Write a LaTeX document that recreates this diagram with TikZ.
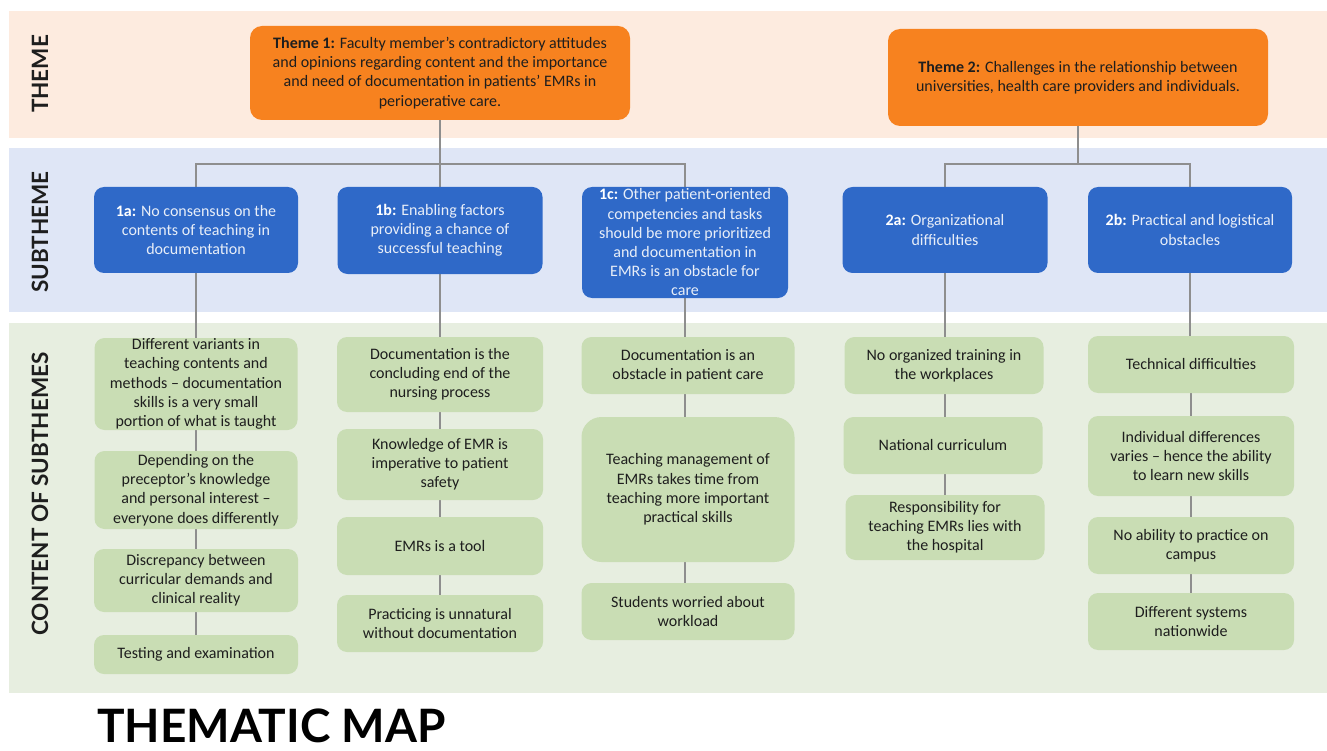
\documentclass[tikz,border=0pt]{standalone}
\usepackage{fontspec}
\setmainfont{Carlito}
\newfontfamily\labelfont{Lato}
\usetikzlibrary{backgrounds}
\definecolor{peach}{HTML}{FDEBDF}
\definecolor{bandblue}{HTML}{DFE6F6}
\definecolor{bandgreen}{HTML}{E7EEE0}
\definecolor{orangebox}{HTML}{F7821F}
\definecolor{bluebox}{HTML}{2F69C8}
\definecolor{greenbox}{HTML}{C9DDB4}
\definecolor{linegray}{HTML}{8E8E8E}
\definecolor{subtext}{HTML}{E8EEF8}
\definecolor{darktext}{HTML}{1E1E1E}
\pgfdeclarelayer{bands}
\pgfsetlayers{bands,background,main}
\begin{document}
\begin{tikzpicture}[x=1pt,y=-1pt,
  themebox/.style={fill=orangebox, rounded corners=12pt, align=center, inner sep=0pt,
    text=darktext, font=\fontsize{16}{19.2}\selectfont},
  subbox/.style={fill=bluebox, rounded corners=10pt, align=center, inner sep=0pt,
    text=subtext, font=\fontsize{16}{19.2}\selectfont},
  contbox/.style={fill=greenbox, rounded corners=10pt, align=center, inner sep=0pt,
    text=darktext, font=\fontsize{16}{19.2}\selectfont},
  sidelabel/.style={rotate=90, text=darktext, font=\labelfont\bfseries\fontsize{22.5}{26}\selectfont},
  conn/.style={draw=linegray, line width=1.4pt}
]
\useasboundingbox (0,0) rectangle (1327,751);
\begin{pgfonlayer}{bands}
  \fill[peach] (9,11) rectangle (1327,138);
  \fill[bandblue] (9,148) rectangle (1327,312);
  \fill[bandgreen] (9,323) rectangle (1327,693);
\end{pgfonlayer}

% side labels
\node[sidelabel] (lt) at (40,74) {THEME};
\node[sidelabel] (ls) at (40,232) {SUBTHEME};
\node[sidelabel] (lc) at (40,494) {CONTENT OF SUBTHEMES};

% title
\node[anchor=base west, inner sep=0pt, text=black, font=\labelfont\bfseries\fontsize{46}{50}\selectfont] (title) at (97,742) {THEMATIC MAP};

% themes
\node[themebox, minimum width=380, minimum height=94] (T1) at (440,73)
  {\textbf{Theme 1:} Faculty member’s contradictory attitudes\\and opinions regarding content and the importance\\and need of documentation in patients’ EMRs in\\perioperative care.};
\node[themebox, minimum width=380, minimum height=97] (T2) at (1078,77.5)
  {\textbf{Theme 2:} Challenges in the relationship between\\universities, health care providers and individuals.};

% subthemes
\node[subbox, minimum width=204, minimum height=86] (S1a) at (196,230)
  {\textbf{\color{white}1a:} No consensus on the\\contents of teaching in\\documentation};
\node[subbox, minimum width=205, minimum height=87] (S1b) at (440,230.5)
  {\textbf{\color{white}1b:} Enabling factors\\providing a chance of\\successful teaching};
\node[subbox, minimum width=206, minimum height=111] (S1c) at (685,242.5)
  {\textbf{\color{white}1c:} Other patient-oriented\\competencies and tasks\\should be more prioritized\\and documentation in\\EMRs is an obstacle for\\care};
\node[subbox, minimum width=205, minimum height=86] (S2a) at (945,230)
  {\textbf{\color{white}2a:} Organizational\\difficulties};
\node[subbox, minimum width=204, minimum height=86] (S2b) at (1190,230)
  {\textbf{\color{white}2b:} Practical and logistical\\obstacles};

% content column 1a
\node[contbox, minimum width=203, minimum height=92] (A1) at (196,384)
  {Different variants in\\teaching contents and\\methods – documentation\\skills is a very small\\portion of what is taught};
\node[contbox, minimum width=203, minimum height=78] (A2) at (196,490)
  {Depending on the\\preceptor’s knowledge\\and personal interest –\\everyone does differently};
\node[contbox, minimum width=204, minimum height=63] (A3) at (196,580.5)
  {Discrepancy between\\curricular demands and\\clinical reality};
\node[contbox, minimum width=204, minimum height=39] (A4) at (196,654.5)
  {Testing and examination};

% content column 1b
\node[contbox, minimum width=206, minimum height=75] (B1) at (440,374.5)
  {Documentation is the\\concluding end of the\\nursing process};
\node[contbox, minimum width=206, minimum height=71] (B2) at (440,464.5)
  {Knowledge of EMR is\\imperative to patient\\safety};
\node[contbox, minimum width=206, minimum height=58] (B3) at (440,546)
  {EMRs is a tool};
\node[contbox, minimum width=206, minimum height=57] (B4) at (440,623.5)
  {Practicing is unnatural\\without documentation};

% content column 1c
\node[contbox, minimum width=213, minimum height=57] (C1) at (688,365.5)
  {Documentation is an\\obstacle in patient care};
\node[contbox, rounded corners=20pt, minimum width=213, minimum height=145] (C2) at (688,489.5)
  {Teaching management of\\EMRs takes time from\\teaching more important\\practical skills};
\node[contbox, minimum width=213, minimum height=57] (C3) at (688,611.5)
  {Students worried about\\workload};

% content column 2a
\node[contbox, minimum width=199, minimum height=57] (D1) at (944,365.5)
  {No organized training in\\the workplaces};
\node[contbox, minimum width=199, minimum height=57] (D2) at (943,445.5)
  {National curriculum};
\node[contbox, minimum width=199, minimum height=65] (D3) at (945,527.5)
  {Responsibility for\\teaching EMRs lies with\\the hospital};

% content column 2b
\node[contbox, minimum width=206, minimum height=57] (E1) at (1191,364.5)
  {Technical difficulties};
\node[contbox, minimum width=206, minimum height=80] (E2) at (1191,456)
  {Individual differences\\varies – hence the ability\\to learn new skills};
\node[contbox, minimum width=206, minimum height=57] (E3) at (1191,545.5)
  {No ability to practice on\\campus};
\node[contbox, minimum width=206, minimum height=57] (E4) at (1191,621.5)
  {Different systems\\nationwide};

% connectors
\coordinate (j1) at (440,164);
\coordinate (j2) at (1078,164);
\begin{pgfonlayer}{background}
  \draw[conn] (T1.south) -- (S1b.north);
  \draw[conn] (S1a.north) |- (j1) -| (S1c.north);
  \draw[conn] (T2.south) -- (j2);
  \draw[conn] (S2a.north) |- (j2) -| (S2b.north);
  % column lines
  \draw[conn] (S1a.south) -- (S1a.south |- A1.north);
  \draw[conn] (A1.south) -- (A1.south |- A2.north);
  \draw[conn] (A2.south) -- (A2.south |- A3.north);
  \draw[conn] (A3.south) -- (A3.south |- A4.north);
  \draw[conn] (S1b.south) -- (S1b.south |- B1.north);
  \draw[conn] (B1.south) -- (B1.south |- B2.north);
  \draw[conn] (B2.south) -- (B2.south |- B3.north);
  \draw[conn] (B3.south) -- (B3.south |- B4.north);
  \draw[conn] (S1c.south) -- (S1c.south |- C1.north);
  \draw[conn] (S1c.south |- C1.south) -- (S1c.south |- C2.north);
  \draw[conn] (S1c.south |- C2.south) -- (S1c.south |- C3.north);
  \draw[conn] (S2a.south) -- (S2a.south |- D1.north);
  \draw[conn] (S2a.south |- D1.south) -- (S2a.south |- D2.north);
  \draw[conn] (S2a.south |- D2.south) -- (S2a.south |- D3.north);
  \draw[conn] (S2b.south) -- (S2b.south |- E1.north);
  \draw[conn] (E1.south) -- (E1.south |- E2.north);
  \draw[conn] (E2.south) -- (E2.south |- E3.north);
  \draw[conn] (E3.south) -- (E3.south |- E4.north);
\end{pgfonlayer}
\end{tikzpicture}
\end{document}
